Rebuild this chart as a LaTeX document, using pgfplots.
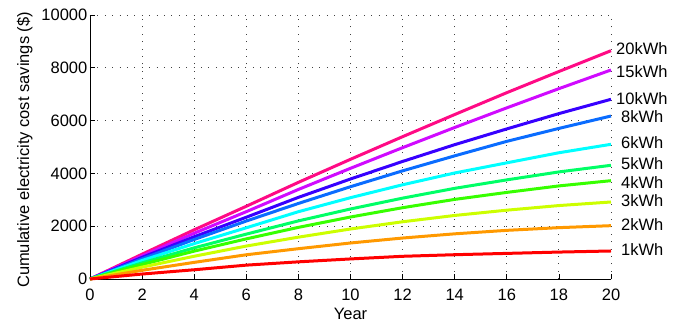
\documentclass[border=0pt]{standalone}
\usepackage{fontspec}
\setmainfont{Liberation Sans}
\usepackage{pgfplots}
\pgfplotsset{compat=1.18}
\definecolor{c20}{RGB}{255,10,133}
\definecolor{c15}{RGB}{208,10,255}
\definecolor{c10}{RGB}{55,0,255}
\definecolor{c8}{RGB}{10,108,255}
\definecolor{c6}{RGB}{0,255,255}
\definecolor{c5}{RGB}{0,255,102}
\definecolor{c4}{RGB}{55,255,0}
\definecolor{c3}{RGB}{204,255,0}
\definecolor{c2}{RGB}{255,153,0}
\definecolor{c1}{RGB}{255,0,0}
\begin{document}
\fontsize{16.5bp}{19bp}\selectfont
\begin{tikzpicture}
\useasboundingbox (-90bp,-43bp) rectangle (606bp,279bp);
\begin{axis}[
  at={(0,0)}, anchor=south west,
  scale only axis, width=521bp, height=264bp,
  xmin=0, xmax=20, ymin=0, ymax=10000,
  xtick={0,2,...,20}, ytick={0,2000,...,10000},
  scaled y ticks=false,
  /pgf/number format/1000 sep={},
  /pgf/number format/assume math mode=true,
  axis lines=left, axis line style={-, black, line width=0.8bp},
  tick align=inside, major tick length=5bp,
  tick style={black, line width=0.8bp},
  grid=major,
  major grid style={black!75, line width=0.9bp, dash pattern=on 0.9bp off 6.5bp},
  clip=false,
  every axis plot/.append style={line width=3bp, no marks},
  ticklabel style={font=\fontsize{16.5bp}{19bp}\selectfont},
  yticklabel style={inner sep=0pt, xshift=-2.5bp},
  xticklabel style={inner sep=0pt, yshift=-10bp},
  xlabel={Year},
  xlabel style={at={(axis description cs:0.5,0)}, anchor=north, inner sep=0pt, yshift=-29bp},
  ylabel={Cumulative electricity cost savings (\$)},
  ylabel style={at={(axis description cs:-0.117,0.489)}, anchor=base, inner sep=0pt},
]
\addplot[c20] coordinates {(0,0)(2,940)(4,1864)(6,2755)(8,3661)(10,4534)(12,5391)(14,6230)(16,7058)(18,7859)(20,8648)};
\addplot[c15] coordinates {(0,0)(2,876)(4,1734)(6,2550)(8,3392)(10,4193)(12,4975)(14,5739)(16,6483)(18,7210)(20,7917)};
\addplot[c10] coordinates {(0,0)(2,819)(4,1600)(6,2340)(8,3092)(10,3788)(12,4453)(14,5088)(16,5685)(18,6265)(20,6807)};
\addplot[c8] coordinates {(0,0)(2,765)(4,1497)(6,2196)(8,2862)(10,3496)(12,4097)(14,4665)(16,5214)(18,5704)(20,6174)};
\addplot[c6] coordinates {(0,0)(2,701)(4,1340)(6,1940)(8,2549)(10,3080)(12,3569)(14,4016)(16,4400)(18,4782)(20,5102)};
\addplot[c5] coordinates {(0,0)(2,610)(4,1180)(6,1700)(8,2201)(10,2652)(12,3063)(14,3434)(16,3755)(18,4056)(20,4307)};
\addplot[c4] coordinates {(0,0)(2,548)(4,1056)(6,1520)(8,1956)(10,2348)(12,2701)(14,3015)(16,3280)(18,3526)(20,3724)};
\addplot[c3] coordinates {(0,0)(2,449)(4,862)(6,1248)(8,1585)(10,1894)(12,2168)(14,2407)(16,2607)(18,2782)(20,2917)};
\addplot[c2] coordinates {(0,0)(2,329)(4,630)(6,918)(8,1148)(10,1364)(12,1552)(14,1711)(16,1843)(18,1945)(20,2020)};
\addplot[c1] coordinates {(0,0)(2,188)(4,350)(6,525)(8,650)(10,760)(12,860)(14,920)(16,970)(18,1020)(20,1061)};
\node[anchor=west, inner sep=0pt] at (axis cs:20.19,8739) {20kWh};
\node[anchor=west, inner sep=0pt] at (axis cs:20.19,7852) {15kWh};
\node[anchor=west, inner sep=0pt] at (axis cs:20.19,6818) {10kWh};
\node[anchor=west, inner sep=0pt] at (axis cs:20.38,6136) {8kWh};
\node[anchor=west, inner sep=0pt] at (axis cs:20.38,5163) {6kWh};
\node[anchor=west, inner sep=0pt] at (axis cs:20.38,4383) {5kWh};
\node[anchor=west, inner sep=0pt] at (axis cs:20.38,3648) {4kWh};
\node[anchor=west, inner sep=0pt] at (axis cs:20.38,2955) {3kWh};
\node[anchor=west, inner sep=0pt] at (axis cs:20.38,2072) {2kWh};
\node[anchor=west, inner sep=0pt] at (axis cs:20.38,1098) {1kWh};
\end{axis}
\end{tikzpicture}
\end{document}
